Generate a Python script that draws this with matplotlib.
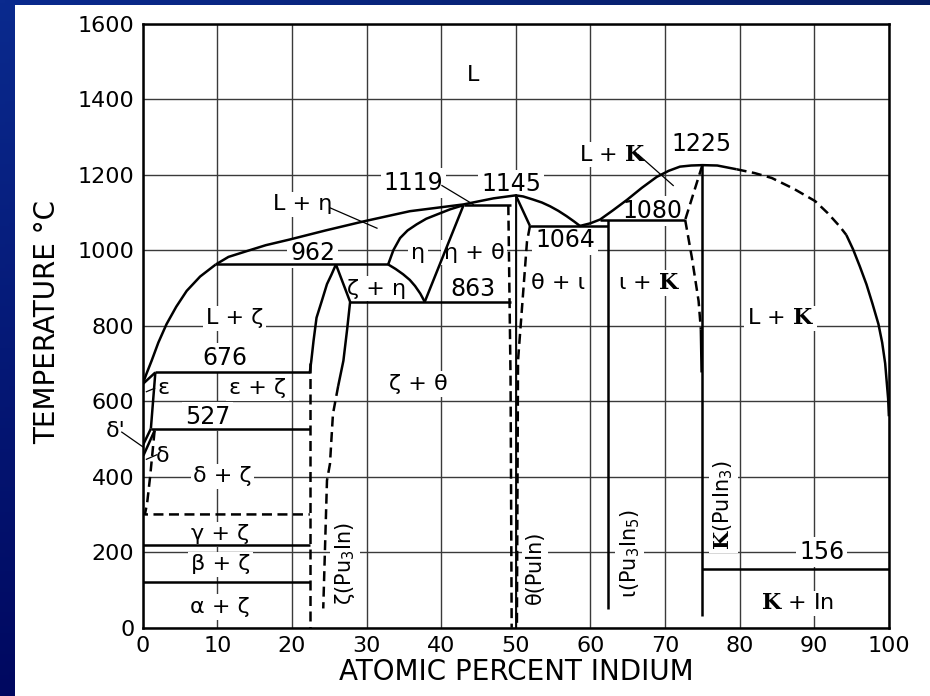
import numpy as np
import matplotlib.pyplot as plt
from matplotlib.patches import Rectangle

# Шрифты: обычный текст DejaVu Sans, фаза каппа рисуется жирной антиквой
plt.rcParams['font.family'] = 'DejaVu Sans'
plt.rcParams['mathtext.fontset'] = 'custom'
plt.rcParams['mathtext.rm'] = 'DejaVu Sans'
plt.rcParams['mathtext.bf'] = 'DejaVu Serif:bold'
plt.rcParams['mathtext.default'] = 'rm'

K = r'$\mathbf{K}$'

# Ликвидус (ат. % In, температура °C)
liq_pu_x = [0, 0.5, 1.2, 2.1, 3.2, 4.5, 5.9, 7.7, 9.8]
liq_pu_t = [645, 672, 707, 755, 804, 850, 892, 930, 962]
liq_eta_x = [9.8, 11.5, 13.9, 16.5, 19.7, 24.5, 29.6, 35.8, 43, 47, 50]
liq_eta_t = [962, 982, 997, 1013, 1028, 1052, 1076, 1103, 1121, 1137, 1145]
liq_theta_x = [50, 51, 52.3, 53.5, 54.6, 55.7, 56.8, 57.8, 58.6]
liq_theta_t = [1145, 1142, 1134, 1126, 1116, 1104, 1090, 1076, 1064]
liq_kappa_x = [58.6, 60, 61.3, 63, 64.9, 66.9, 68.9, 70.5, 72, 73.5, 75,
               77, 79.6]
liq_kappa_t = [1064, 1071, 1081, 1105, 1133, 1165, 1194, 1210, 1221, 1224,
               1225, 1224, 1214]
liq_in_dash_x = [79.6, 82, 84.3, 87.2, 90.1, 91.8, 93.4, 94.3]
liq_in_dash_t = [1214, 1204, 1191, 1163, 1130, 1098, 1063, 1040]
liq_in_x = [94.3, 95.2, 96.1, 97, 97.8, 98.6, 99.1, 99.5, 99.9, 100]
liq_in_t = [1040, 1002, 957, 909, 858, 804, 755, 700, 606, 560]

# Границы фазы дзета (Pu3In)
zeta_left_x = [25.9, 25.3, 24.7, 24.0, 23.3, 22.9, 22.6, 22.4]
zeta_left_t = [962, 935, 910, 865, 821, 760, 707, 676]
zeta_left_dash_x = [22.4, 22.4]
zeta_left_dash_t = [700, 0]
zeta_right_x = [25.9, 27.8, 27.4, 26.9, 26.2]
zeta_right_t = [962, 863, 790, 707, 640]
zeta_right_dash_x = [26.2, 25.5, 25.1, 24.7, 24.2]
zeta_right_dash_t = [640, 566, 434, 390, 51]

# Фаза эта
eta_up_x = [32.9, 33.6, 34.5, 35.5, 36.7, 38, 39.4, 41.2, 43]
eta_up_t = [962, 1000, 1032, 1052, 1068, 1083, 1094, 1108, 1119]
eta_down_x = [32.9, 33.9, 34.9, 35.8, 36.5, 37.2, 37.8]
eta_down_t = [962, 950, 936, 921, 905, 885, 863]
eta_right_x = [37.8, 43]
eta_right_t = [863, 1119]

# Фаза тета (PuIn)
theta_left_x = [49.0, 49.3, 49.45]
theta_left_t = [1119, 660, 0]
theta_mid_x = [50, 50]
theta_mid_t = [1145, 0]
theta_top_x = [50, 51.9]
theta_top_t = [1145, 1064]
theta_right_x = [51.9, 51.5, 50.3, 50.15]
theta_right_t = [1064, 1022, 707, 0]

# Фазы йота (Pu3In5) и каппа (PuIn3)
iota_x = [62.4, 62.4]
iota_t = [1080, 50]
kappa_x = [75, 75]
kappa_t = [1225, 32]
kappa_top_dash_x = [75, 72.7]
kappa_top_dash_t = [1225, 1080]
kappa_left_dash_x = [72.7, 73.6, 74.5, 74.8]
kappa_left_dash_t = [1080, 980, 865, 790]
kappa_left_x = [74.8, 74.9]
kappa_left_t = [790, 676]

# Pu-угол: эпсилон, дельта', дельта
eps_sol_x = [0, 1.7]
eps_sol_t = [645, 676]
eps_right_x = [1.7, 1.1]
eps_right_t = [676, 527]
dprime_a_x = [0, 1.1]
dprime_a_t = [482, 527]
dprime_b_x = [0.1, 1.6]
dprime_b_t = [456, 522]
delta_dash_x = [1.6, 1.0, 0.6, 0.3, 22.4]
delta_dash_t = [522, 400, 330, 300, 300]

# Изотермы: температура, начало, конец
iso_t = [676, 527, 220, 122, 962, 863, 1119, 1064, 1080, 156]
iso_x0 = [1.7, 1.1, 0, 0, 9.8, 27.8, 43, 51.9, 61.3, 75]
iso_x1 = [22.4, 22.4, 22.4, 22.4, 32.9, 49.3, 49.3, 62.4, 72.7, 100]

# Подписи областей и температур
lab_text = ['L', 'L + η', '1119', '1145', '1225', 'L + ' + K, '1080', '1064',
            'θ + ι', 'ι + ' + K, '962', 'η', 'η + θ', 'ζ + η', '863',
            'L + ζ', '676', 'ε', 'ε + ζ', '527', "δ'", 'δ', 'δ + ζ',
            'γ + ζ', 'β + ζ', 'α + ζ', 'ζ + θ', 'L + ' + K, '156', K + ' + In']
lab_x = [44.3, 21.4, 36.3, 49.4, 74.9, 63, 68.3, 56.6,
         55.7, 67.9, 22.8, 36.9, 44.4, 31.3, 44.3,
         12.3, 11, 2.8, 15.4, 8.7, -3.6, 2.7, 10.7,
         10.4, 10.4, 10.4, 37, 85.5, 91, 87.7]
lab_t = [1465, 1121, 1178, 1174, 1281, 1253, 1104, 1026,
         913, 913, 991, 993, 993, 898, 896,
         819, 714, 636, 634, 559, 522, 456, 401,
         247, 168, 55, 645, 819, 200, 65]

# Вертикальные подписи соединений
comp_text = ['ζ(Pu$_3$In)', 'θ(PuIn)', 'ι(Pu$_3$In$_5$)', K + '(PuIn$_3$)']
comp_x = [27.1, 52.6, 65.3, 77.8]
comp_t = [170, 160, 197, 325]

# Выноски
lead_x = [[25.1, 31.4], [40.1, 44.3], [66.4, 71.1], [-2.8, 0.1],
          [0.5, 1.9], [0.5, 1.6]]
lead_t = [[1112, 1058], [1171, 1121], [1253, 1171], [518, 478],
          [446, 458], [625, 634]]

fig = plt.figure(figsize=(9.3, 6.96), dpi=100)

# Синий фон с градиентом и белое поле
bg = fig.add_axes([0, 0, 1, 1])
bg.set_axis_off()
v = np.linspace(0, 1, 200)[:, None]
u = np.linspace(0, 1, 200)[None, :]
top = np.array([10, 42, 142]) / 255
bot = np.array([0, 8, 96]) / 255
grad = top * (1 - v[..., None]) + bot * v[..., None]
grad = grad * (1 - 0.3 * u[..., None])
bg.imshow(grad, aspect='auto', extent=[0, 1, 0, 1])
bg.add_patch(Rectangle((15 / 930, 0), 1, 1 - 5 / 696, facecolor='white',
                       edgecolor='none'))
bg.set_xlim(0, 1)
bg.set_ylim(0, 1)

ax = fig.add_axes([0.1534, 0.0981, 0.8024, 0.8681])
ax.set_facecolor('none')
ax.set_xlim(0, 100)
ax.set_ylim(0, 1600)
ax.set_xticks(range(0, 101, 10))
ax.set_yticks(range(0, 1601, 200))
ax.tick_params(length=0, labelsize=16, pad=6)
ax.grid(True, color='#3a3a3a', lw=1.0)
ax.set_axisbelow(True)
for s in ax.spines.values():
    s.set_linewidth(1.8)

solid = dict(color='black', lw=1.8, zorder=4, solid_capstyle='butt')
dashed = dict(color='black', lw=1.8, zorder=4, dashes=(4, 2.2))

for xs, ts in [(liq_pu_x, liq_pu_t), (liq_eta_x, liq_eta_t),
               (liq_theta_x, liq_theta_t), (liq_kappa_x, liq_kappa_t),
               (liq_in_x, liq_in_t), (zeta_left_x, zeta_left_t),
               (zeta_right_x, zeta_right_t), (eta_up_x, eta_up_t),
               (eta_down_x, eta_down_t), (eta_right_x, eta_right_t),
               (theta_top_x, theta_top_t), (iota_x, iota_t),
               (kappa_x, kappa_t), (kappa_left_x, kappa_left_t),
               (eps_sol_x, eps_sol_t), (eps_right_x, eps_right_t),
               (dprime_a_x, dprime_a_t), (dprime_b_x, dprime_b_t)]:
    ax.plot(xs, ts, **solid)
ax.plot(theta_mid_x, theta_mid_t, color='black', lw=1.3, zorder=4)

for xs, ts in [(liq_in_dash_x, liq_in_dash_t),
               (zeta_left_dash_x, zeta_left_dash_t),
               (zeta_right_dash_x, zeta_right_dash_t),
               (theta_left_x, theta_left_t), (theta_right_x, theta_right_t),
               (kappa_top_dash_x, kappa_top_dash_t),
               (kappa_left_dash_x, kappa_left_dash_t),
               (delta_dash_x, delta_dash_t)]:
    ax.plot(xs, ts, **dashed)

# Изотермы
for t, x0, x1 in zip(iso_t, iso_x0, iso_x1):
    ax.plot([x0, x1], [t, t], **solid)

# Выноски
for xs, ts in zip(lead_x, lead_t):
    ax.plot(xs, ts, color='black', lw=0.9, zorder=4, clip_on=False)

box = dict(facecolor='white', edgecolor='none', pad=2)
for s, x, t in zip(lab_text, lab_x, lab_t):
    size = 17 if s[0].isdigit() else 16
    ax.text(x, t, s, fontsize=size, ha='center', va='center', bbox=box,
            zorder=3, clip_on=False)
for s, x, t in zip(comp_text, comp_x, comp_t):
    ax.text(x, t, s, fontsize=15, rotation=90, ha='center', va='center',
            bbox=box, zorder=3)

fig.text(0.5554, 0.0345, 'ATOMIC PERCENT INDIUM', fontsize=20,
         ha='center', va='center')
fig.text(47 / 930, 1 - 322 / 696, 'TEMPERATURE °C', fontsize=20,
         rotation=90, ha='center', va='center')

fig.savefig('out.png', dpi=100)
